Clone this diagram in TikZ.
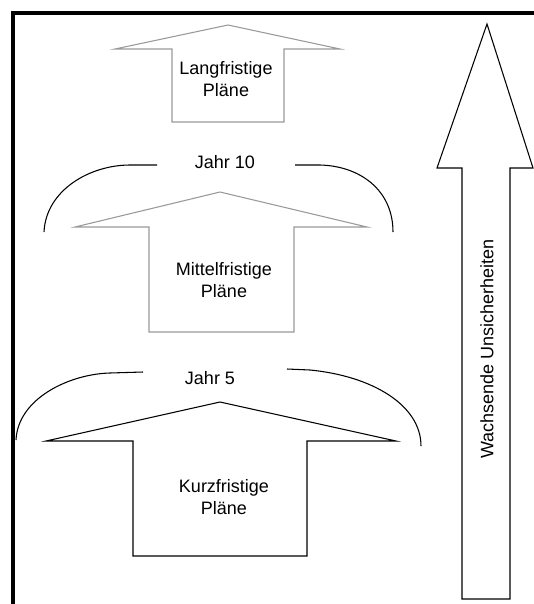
\documentclass[tikz,border=0pt]{standalone}
\usepackage{fontspec}
\setmainfont{Liberation Sans}
\tikzset{
  planarrow/.style={draw=black!40, line width=0.8pt, line join=miter},
  uncarrow/.style={draw=black, line width=0.8pt, line join=miter},
  bracket/.style={draw=black, line width=0.8pt},
  lbl/.style={align=center, inner sep=0pt, font=\fontsize{13.5}{16.5}\selectfont}
}
\begin{document}
\begin{tikzpicture}[x=0.75pt, y=-0.75pt]
  \useasboundingbox (0,0) rectangle (534,604);
  % frame
  \draw[line width=2.3pt, line join=miter] (534,13) -- (13,13) -- (13,604);
  % long-term plans
  \draw[planarrow] (228,25) -- (340,49) -- (284,49) -- (284,122) -- (172,122) -- (172,49) -- (115,49) -- cycle;
  \node[lbl] (lang) at (226,79) {Langfristige\\Pläne};
  % year 10
  \node[lbl] (jahr10) at (225,162) {Jahr 10};
  \draw[bracket] (44,232) .. controls (46,190) and (90,165) .. (130,165) -- (157,165);
  \draw[bracket] (295,165) -- (320,165) .. controls (360,166) and (393,190) .. (393,232);
  % mid-term plans
  \draw[planarrow] (220,192) -- (367,227) -- (294,227) -- (294,332) -- (149,332) -- (149,227) -- (75,227) -- cycle;
  \node[lbl] (mittel) at (224,280) {Mittelfristige\\Pläne};
  % year 5
  \node[lbl] (jahr5) at (210,378) {Jahr 5};
  \draw[bracket] (16,440) .. controls (18,398) and (70,374) .. (110,373) -- (143,372);
  \draw[bracket] (287,369) -- (310,370) .. controls (372,376) and (421,405) .. (421,446);
  % short-term plans
  \draw[uncarrow] (220,402) -- (396,441) -- (307,441) -- (307,556) -- (133,556) -- (133,441) -- (46,441) -- cycle;
  \node[lbl] (kurz) at (224,497) {Kurzfristige\\Pläne};
  % growing uncertainty
  \draw[uncarrow] (487,24) -- (533,168) -- (510,168) -- (510,599) -- (462,599) -- (462,168) -- (437,168) -- cycle;
  \node[lbl, rotate=90] (unsicher) at (487,349) {Wachsende Unsicherheiten};
\end{tikzpicture}
\end{document}
